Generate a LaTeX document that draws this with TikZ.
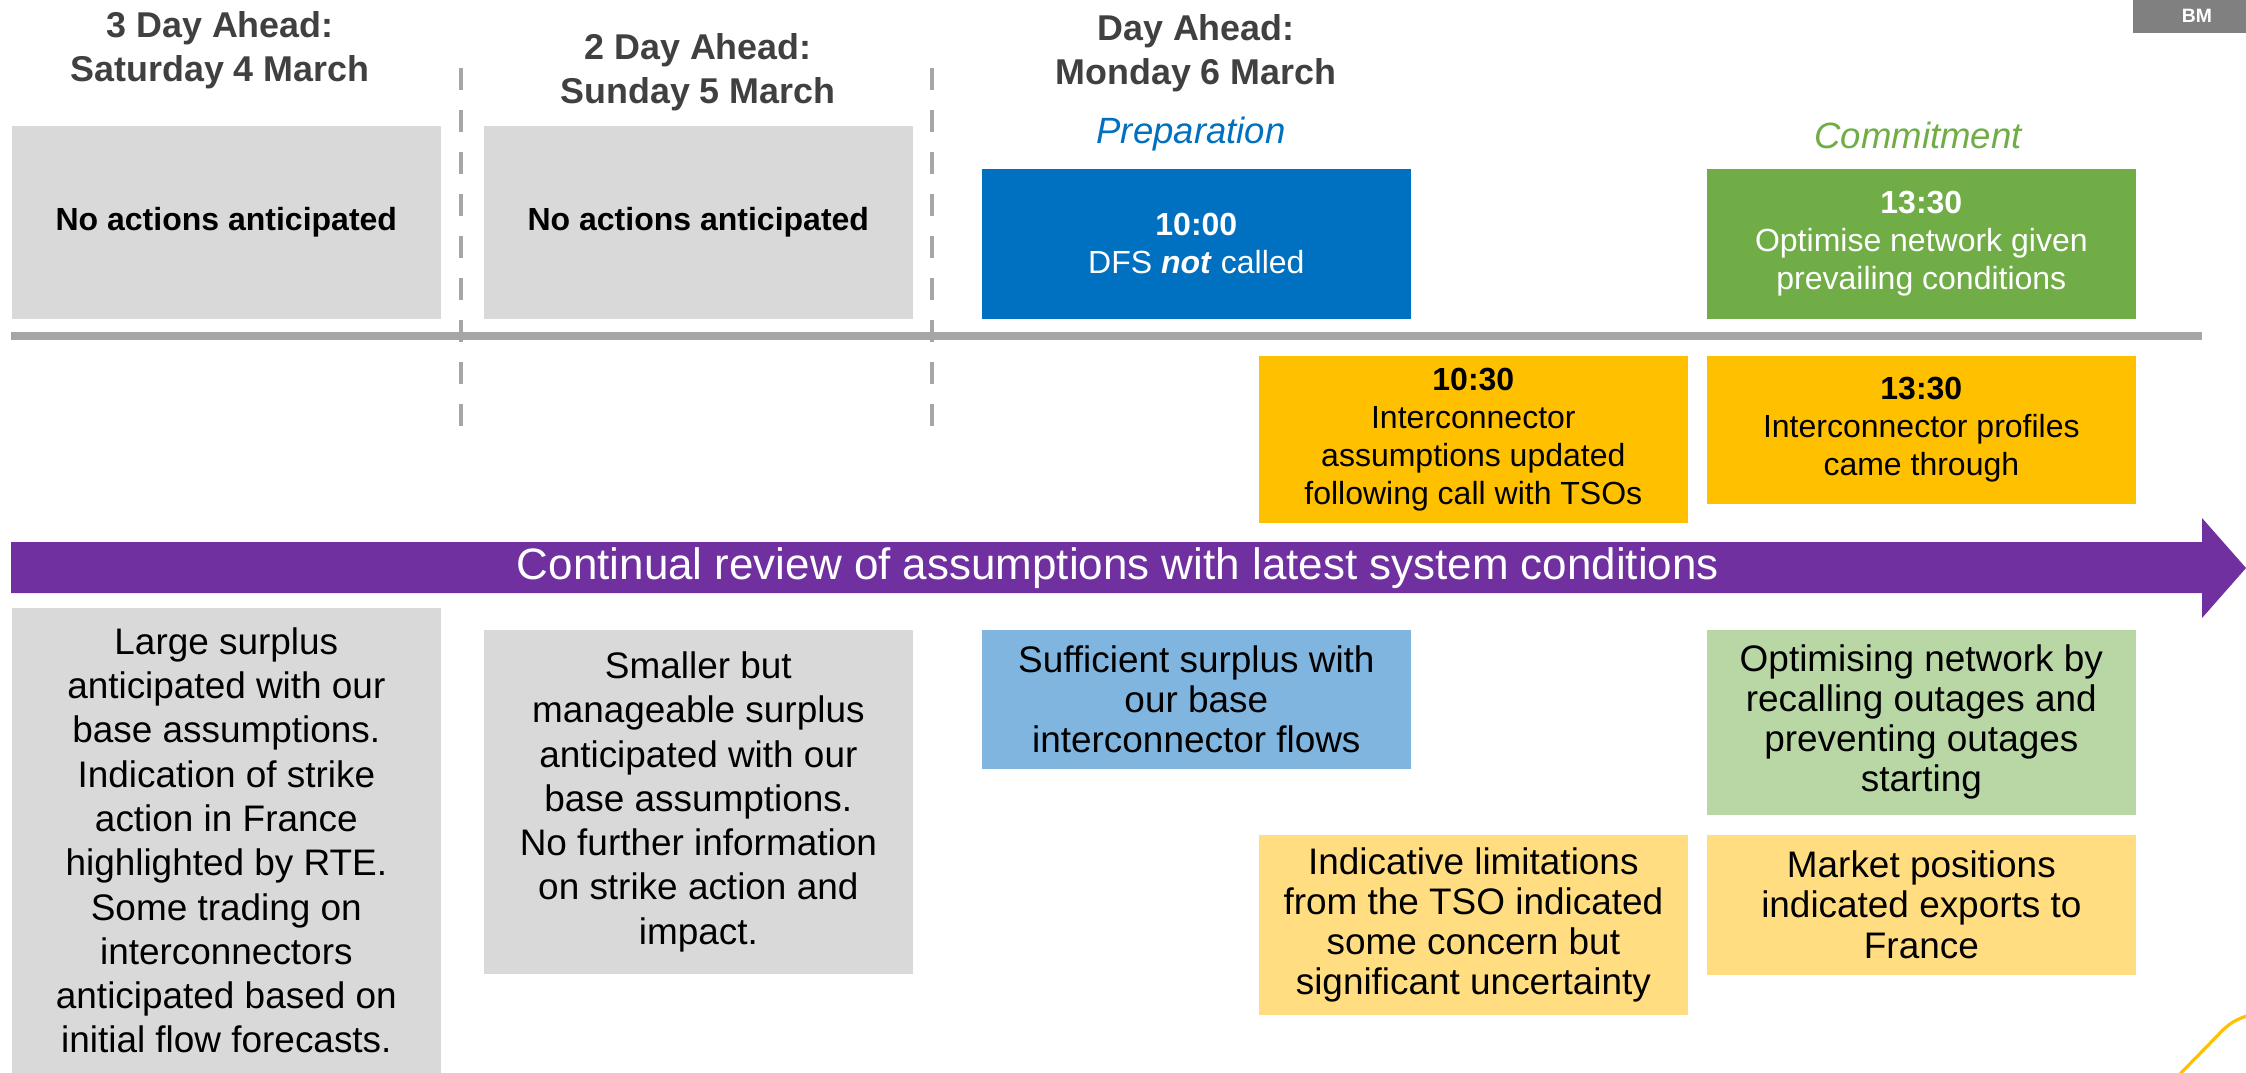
\documentclass[tikz,border=0pt]{standalone}
\usepackage{fontspec}
\setmainfont{Liberation Sans}

\begin{document}
\begin{tikzpicture}[%
        % 1 unit = 1 px of the slide, y runs downwards
        x=0.01cm, y=-0.01cm,
        % text boxes
        box/.style={anchor=north west, inner sep=0pt, align=center, minimum width=4.29cm},
        head/.style={align=center, inner sep=0pt, text=titlegray,
            font=\bfseries\fontsize{10.2}{12.5}\selectfont},
        phase/.style={anchor=base, inner sep=0pt, font=\itshape\fontsize{10.4}{12}\selectfont},
        event/.style={box, font=\fontsize{9.1}{10.8}\selectfont},
        note/.style={box, font=\fontsize{10.5}{11.4}\selectfont},
        ]

        \definecolor{boxgray}{RGB}{217, 217, 217}
        \definecolor{dfsblue}{RGB}{0, 112, 192}
        \definecolor{commitgreen}{RGB}{112, 173, 71}
        \definecolor{icorange}{RGB}{255, 192, 0}
        \definecolor{noteblue}{RGB}{127, 181, 222}
        \definecolor{notegreen}{RGB}{185, 215, 165}
        \definecolor{noteorange}{RGB}{255, 221, 128}
        \definecolor{reviewpurple}{RGB}{112, 48, 160}
        \definecolor{linegray}{RGB}{166, 166, 166}
        \definecolor{titlegray}{RGB}{64, 64, 64}
        \definecolor{tabgray}{RGB}{128, 128, 128}

        \useasboundingbox (0,0) rectangle (2246,1072);

        % timeline and day separators
        \draw[linegray, line width=2pt] (11,336) -- (2202,336);
        \foreach \x in {461,932}
            \draw[linegray, line width=1.4pt, dash pattern=on 0.22cm off 0.2cm] (\x,68) -- (\x,428);

        % day headings
        \node[head] (day3) at (220,50) {3 Day Ahead:\\Saturday 4 March};
        \node[head] (day2) at (698,72) {2 Day Ahead:\\Sunday 5 March};
        \node[head] (day1) at (1196,53) {Day Ahead:\\Monday 6 March};
        \node[phase, text=dfsblue] (prep) at (1191,143) {Preparation};
        \node[phase, text=commitgreen] (commit) at (1918,148) {Commitment};

        % boxes above the timeline
        \node[box, fill=boxgray, minimum height=1.93cm, font=\bfseries\fontsize{9.1}{10.8}\selectfont]
            (sat) at (11,125) {No actions anticipated};
        \node[box, fill=boxgray, minimum height=1.93cm, font=\bfseries\fontsize{9.1}{10.8}\selectfont]
            (sun) at (483,125) {No actions anticipated};
        \node[event, fill=dfsblue, text=white, minimum height=1.5cm]
            (dfs) at (981,168) {\textbf{10:00}\\DFS \textbf{\textit{not}} called};
        \node[event, fill=commitgreen, text=white, minimum height=1.5cm]
            (opt) at (1706,168) {\textbf{13:30}\\Optimise network given\\prevailing conditions};

        % boxes below the timeline
        \node[event, fill=icorange, minimum height=1.67cm]
            (ictso) at (1258,355) {\textbf{10:30}\\Interconnector\\assumptions updated\\following call with TSOs};
        \node[event, fill=icorange, minimum height=1.48cm]
            (icprof) at (1706,355) {\textbf{13:30}\\Interconnector profiles\\came through};

        % review arrow
        \fill[reviewpurple] (11,542) -- (2202,542) -- (2202,518) -- (2246,568)
            -- (2202,618) -- (2202,593) -- (11,593) -- cycle;
        \node[text=white, inner sep=0pt, font=\fontsize{12.5}{15}\selectfont]
            (review) at (1118,568) {Continual review of assumptions with latest system conditions};

        % notes
        \node[note, fill=boxgray, minimum height=4.65cm, font=\fontsize{10.5}{12.6}\selectfont]
            (satnote) at (11,607) {Large surplus\\anticipated with our\\base assumptions.\\Indication of strike\\action in France\\highlighted by RTE.\\Some trading on\\interconnectors\\anticipated based on\\initial flow forecasts.};
        \node[note, fill=boxgray, minimum height=3.44cm, font=\fontsize{10.5}{12.6}\selectfont]
            (sunnote) at (483,629) {Smaller but\\manageable surplus\\anticipated with our\\base assumptions.\\No further information\\on strike action and\\impact.};
        \node[note, fill=noteblue, minimum height=1.39cm]
            (dfsnote) at (981,629) {Sufficient surplus with\\our base\\interconnector flows};
        \node[note, fill=notegreen, minimum height=1.85cm]
            (optnote) at (1706,629) {Optimising network by\\recalling outages and\\preventing outages\\starting};
        \node[note, fill=noteorange, minimum height=1.8cm]
            (tsonote) at (1258,834) {Indicative limitations\\from the TSO indicated\\some concern but\\significant uncertainty};
        \node[note, fill=noteorange, minimum height=1.4cm]
            (mktnote) at (1706,834) {Market positions\\indicated exports to\\France};

        % slide decoration
        \fill[tabgray] (2133,0) rectangle (2246,33);
        \node[text=white, inner sep=0pt, font=\bfseries\fontsize{5.5}{6}\selectfont] (bm) at (2197,16) {BM};
        \draw[icorange, line width=0.9pt] (2178,1076) -- (2218,1035)
            .. controls (2228,1024) and (2236,1019) .. (2250,1015);

    \end{tikzpicture}
\end{document}
